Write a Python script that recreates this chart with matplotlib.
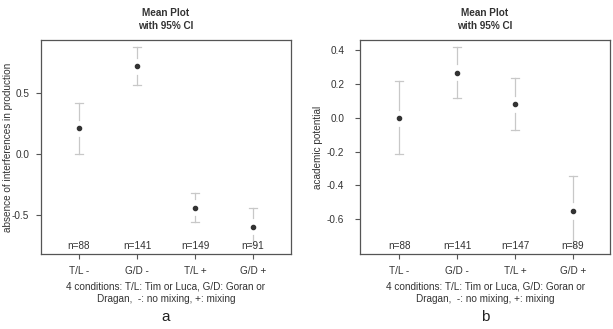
import matplotlib
matplotlib.use("Agg")
import matplotlib.pyplot as plt

plt.rcParams['font.family'] = ['Liberation Sans', 'DejaVu Sans']

categories = ["T/L -", "G/D -", "T/L +", "G/D +"]

# panel a
a_mean = [0.21, 0.72, -0.44, -0.595]
a_upper = [0.415, 0.875, -0.32, -0.44]
a_lower = [0.0, 0.566, -0.56, -0.75]
a_n = ["n=88", "n=141", "n=149", "n=91"]

# panel b
b_mean = [-0.004, 0.265, 0.079, -0.551]
b_upper = [0.218, 0.415, 0.236, -0.343]
b_lower = [-0.216, 0.114, -0.073, -0.76]
b_n = ["n=88", "n=141", "n=147", "n=89"]

xlabel = "4 conditions: T/L: Tim or Luca, G/D: Goran or\nDragan,  -: no mixing, +: mixing"

fig = plt.figure(figsize=(6.13, 3.29), dpi=100)
txt = '#333333'
bar_c = '#c8c8c8'
FS = 7.2

def panel(rect, means, up, lo, ns, ylim, xlim, yticks, ylabel, letter, ypad, ylabel_x):
    ax = fig.add_axes(rect)
    xs = list(range(1, len(categories) + 1))
    span = ylim[1] - ylim[0]
    gap = span * 0.04
    for x, m, u, l in zip(xs, means, up, lo):
        ax.plot([x, x], [m + gap, u], color=bar_c, lw=0.9)
        ax.plot([x, x], [m - gap, l], color=bar_c, lw=0.9)
        cw = 0.07
        ax.plot([x - cw, x + cw], [u, u], color=bar_c, lw=0.9)
        ax.plot([x - cw, x + cw], [l, l], color=bar_c, lw=0.9)
    ax.plot(xs, means, 'o', color='#333333', ms=3, ls='none')
    for x, t in zip(xs, ns):
        ax.text(x, ylim[0] + span * 0.012, t, ha='center', va='bottom',
                fontsize=FS, color=txt)
    ax.set_xlim(*xlim)
    ax.set_ylim(*ylim)
    ax.set_xticks(xs)
    ax.set_xticklabels(categories)
    ax.set_yticks(yticks)
    ax.set_yticklabels([f"{v:.1f}" for v in yticks])
    ax.tick_params(direction='out', length=3.4, width=0.8, colors='#555555',
                   labelsize=FS, labelcolor=txt)
    ax.tick_params(axis='x', pad=5)
    ax.tick_params(axis='y', pad=ypad)
    for s in ax.spines.values():
        s.set_color('#555555')
        s.set_linewidth(0.9)
    ax.set_ylabel(ylabel, fontsize=FS, color=txt, va='center')
    ax.yaxis.set_label_coords(ylabel_x, 0.5)
    ax.set_xlabel(xlabel, fontsize=FS, color=txt, labelpad=4, linespacing=1.35)
    ax.set_title("Mean Plot\nwith 95% CI", fontsize=FS, fontweight='bold',
                 color=txt, pad=8, linespacing=1.35)
    cx = (rect[0] + rect[0] + rect[2]) / 2
    fig.text(cx, 1 - 317 / 329, letter, ha='center', va='center', fontsize=11,
             color='#222222')
    return ax

panel([41 / 613, 1 - 254 / 329, 250 / 613, 214 / 329], a_mean, a_upper, a_lower,
      a_n, (-0.82, 0.934), (0.345, 4.655), [-0.5, 0.0, 0.5],
      "absence of interferences in production", "a", 5, (8 - 41) / 250)
panel([360 / 613, 1 - 254 / 329, 250 / 613, 214 / 329], b_mean, b_upper, b_lower,
      b_n, (-0.805, 0.459), (0.326, 4.64), [-0.6, -0.4, -0.2, 0.0, 0.2, 0.4],
      "academic potential", "b", 8, (318 - 360) / 250)

fig.savefig("out.png", dpi=100)
